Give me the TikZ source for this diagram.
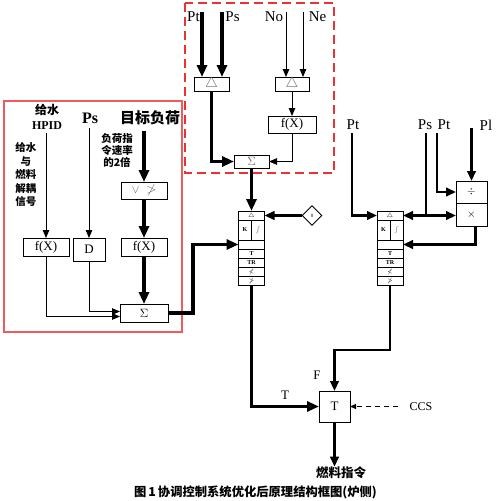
\documentclass[tikz,border=0pt]{standalone}
\usepackage{amssymb}
\usepackage{fontspec}
\setmainfont{Liberation Serif}
\newfontfamily\cjk{Noto Sans CJK SC}
\usetikzlibrary{arrows.meta,shapes.geometric}
\definecolor{redA}{RGB}{235,50,50}
\definecolor{redB}{RGB}{240,90,90}
\definecolor{symgray}{RGB}{105,105,105}
\tikzset{
  box/.style={draw, line width=0.9pt, fill=white, inner sep=0pt, outer sep=0pt, font=\fontsize{13}{13}\selectfont},
  pidrow/.style={draw, line width=0.8pt, fill=white, inner sep=0pt, outer sep=0pt, minimum width=26pt, minimum height=9pt, font=\bfseries\fontsize{6}{6}\selectfont},
  thickline/.style={line width=3.3pt},
  thickarr/.style={line width=3.3pt, -{Triangle[length=12pt,width=10pt]}},
  thinarr/.style={line width=1pt, -{Triangle[length=8pt,width=6.5pt]}},
  medline/.style={line width=2.3pt},
  medarr/.style={line width=2.3pt, -{Triangle[length=10pt,width=8.5pt]}},
  dasharr/.style={line width=1pt, dash pattern=on 5pt off 4pt, -{Triangle[length=6pt,width=5pt]}},
  lbl/.style={inner sep=0pt, font=\fontsize{15}{15}\selectfont},
  lblm/.style={inner sep=0pt, font=\fontsize{13}{13}\selectfont},
  cjkb/.style={inner sep=0pt, font=\cjk\bfseries\fontsize{10.5}{13.5}\selectfont, align=center},
}
\newcommand\pidblk[3]{%
  \node[pidrow] (#1d) at (#2,#3+4.5) {$\triangle$};
  \node[pidrow, minimum width=13pt, minimum height=20pt] (#1k) at (#2-6.5,#3+19) {K};
  \node[pidrow, minimum width=13pt, minimum height=20pt, font=\fontsize{6.5}{6.5}\selectfont] (#1i) at (#2+6.5,#3+19) {\color{symgray}$\int$};
  \node[pidrow] (#1s) at (#2,#3+33.5) {$\mathbf{\Sigma}$};
  \node[pidrow] (#1t) at (#2,#3+42.5) {T};
  \node[pidrow] (#1r) at (#2,#3+51.5) {TR};
  \node[pidrow] (#1l) at (#2,#3+60.5) {$\nless$};
  \node[pidrow] (#1g) at (#2,#3+69.5) {$\ngtr$};
}
\begin{document}
\begin{tikzpicture}[x=1pt,y=-1pt]
\fill[white] (0,0) rectangle (500,501);
\useasboundingbox (0,0) rectangle (500,501);
% frames
\draw[redA, line width=1.3pt, dash pattern=on 9pt off 5pt] (185,3) rectangle (334,173);
\draw[redB, line width=1.3pt] (4,101) rectangle (182,332);

% ---------- top group ----------
\node[box, minimum width=35pt, minimum height=14pt, font=\fontsize{15}{15}\selectfont] (d1) at (211.5,84) {\color{symgray}$\triangle$};
\node[box, minimum width=34pt, minimum height=14pt, font=\fontsize{15}{15}\selectfont] (d2) at (292,84) {\color{symgray}$\triangle$};
\node[box, minimum width=48pt, minimum height=17pt] (fx0) at (292,124.5) {f(X)};
\node[box, minimum width=35pt, minimum height=13pt] (s0) at (251.5,161.5) {\color{symgray}$\Sigma$};
\node[lbl] (lpt) at (193.5,17) {Pt};
\node[lbl] (lps) at (232.5,17) {Ps};
\node[lbl] (lno) at (274,17) {No};
\node[lbl] (lne) at (317.5,17) {Ne};
\coordinate (ptin) at (202,12);
\coordinate (psin) at (222,12);
\coordinate (noin) at (286,12);
\coordinate (nein) at (303,12);
\draw[thickarr] (ptin) -- (ptin |- d1.north);
\draw[thickarr] (psin) -- (psin |- d1.north);
\draw[thinarr] (noin) -- (noin |- d2.north);
\draw[thinarr] (nein) -- (nein |- d2.north);
\draw[thickarr] (d1.south) |- (s0.west);
\draw[thinarr] (d2.south) -- (fx0.north);
\draw[thinarr] (fx0.south) |- (s0.east);

% ---------- PID blocks ----------
\pidblk{pa}{251.5}{211}
\pidblk{pb}{390}{211}
\draw[thickarr] (s0.south) -- (pad.north);
\node[draw, diamond, shape aspect=1, minimum size=20pt, inner sep=0pt, line width=0.9pt, fill=white, font=\fontsize{5}{5}\selectfont] (zero) at (312,215.5) {0};
\draw[medarr] (zero.west) -- (pad.east);

% ---------- left group ----------
\node[inner sep=0pt, font=\cjk\bfseries\fontsize{12}{12}\selectfont] (gs) at (47,110) {给水};
\node[inner sep=0pt, font=\bfseries\fontsize{12}{12}\selectfont] (hpid) at (47,125.5) {HPID};
\node[inner sep=0pt, font=\bfseries\fontsize{16}{16}\selectfont] (lps2) at (90,118) {Ps};
\node[inner sep=0pt, font=\cjk\bfseries\fontsize{15}{15}\selectfont] (tgtl) at (150,118) {目标负荷};
\node[cjkb] (dec) at (26,175) {给水\\与\\燃料\\解耦\\信号};
\node[cjkb, font=\cjk\bfseries\fontsize{10.5}{12}\selectfont] (rate) at (117,150) {负荷指\\令速率\\的2倍};
\node[box, minimum width=46pt, minimum height=18pt] (fxa) at (46,247) {f(X)};
\node[box, minimum width=32pt, minimum height=23pt] (dbx) at (89,249.5) {D};
\node[box, minimum width=46pt, minimum height=18pt] (fxb) at (144,247) {f(X)};
\node[box, minimum width=46pt, minimum height=17pt] (vbx) at (144,190.5) {\color{symgray}$\vee\;\ngtr$};
\node[box, minimum width=48pt, minimum height=18pt] (s1) at (144,313) {$\Sigma$};
\coordinate (hin) at (46,133);
\coordinate (pslin) at (89,128);
\coordinate (tgin) at (144,131);
\draw[thinarr] (hin) -- (hin |- fxa.north);
\draw[thinarr] (pslin) -- (pslin |- dbx.north);
\draw[thickarr] (tgin) -- (vbx.north);
\draw[thickarr] (vbx.south) -- (fxb.north);
\draw[thickarr] (fxb.south) -- (s1.north);
\draw[thinarr] (fxa.south) |- ([yshift=-3.5pt]s1.west);
\draw[thinarr] (dbx.south) |- ([yshift=1.5pt]s1.west);
\draw[thickarr] (s1.east) -- ++(25,0) |- (pas.west);

% ---------- right group ----------
\node[lbl] (rpt) at (353,125) {Pt};
\node[lbl] (rps) at (425,125) {Ps};
\node[lbl] (rpt2) at (444,125) {Pt};
\node[lbl] (rpl) at (486,125) {Pl};
\node[box, minimum width=31pt, minimum height=22pt, font=\fontsize{11}{11}\selectfont] (dv) at (471.5,192) {$\div$};
\node[box, minimum width=31pt, minimum height=23pt, font=\fontsize{11}{11}\selectfont] (ml) at (471.5,214.5) {$\times$};
\coordinate (rptin) at (352,133);
\coordinate (rpsin) at (426,133);
\coordinate (rpsj) at (426,215.5);
\coordinate (rpt2in) at (437,133);
\coordinate (plin) at (471.5,128);
\draw[medarr] (rptin) |- (pbd.west);
\draw[medline] (rpsin) -- (rpsj);
\draw[medarr] (rpsj) -- (pbd.east);
\draw[medarr] (rpsj) -- (rpsj -| ml.west);
\draw[medarr] (rpt2in) |- (dv.west);
\draw[medarr] (plin) -- (dv.north);
\draw[medarr] ([xshift=4pt]ml.south) |- (pbs.east);

% ---------- output ----------
\node[box, minimum width=31pt, minimum height=31pt] (tb) at (334.5,406.5) {T};
\draw[medarr] (pbg.south) -- ++(0,65) -| (tb.north);
\draw[thickarr] (pag.south) |- (tb.west);
\node[lblm] (tl) at (285,395) {T};
\node[lblm] (fl) at (317,375) {F};
\node[inner sep=0pt, font=\fontsize{12}{12}\selectfont] (ccs) at (421,406.5) {CCS};
\draw[dasharr] ([xshift=-11pt]ccs.west) -- (tb.east);
\node[inner sep=0pt, font=\cjk\bfseries\fontsize{12.5}{12.5}\selectfont] (fuel) at (341,473) {燃料指令};
\draw[medarr] (tb.south) -- (tb.south |- fuel.north);
\node[inner sep=0pt, font=\cjk\bfseries\fontsize{12.3}{12.3}\selectfont] (cap) at (255.5,492) {图\,1\,协调控制系统优化后原理结构框图(炉侧)};
\end{tikzpicture}
\end{document}
